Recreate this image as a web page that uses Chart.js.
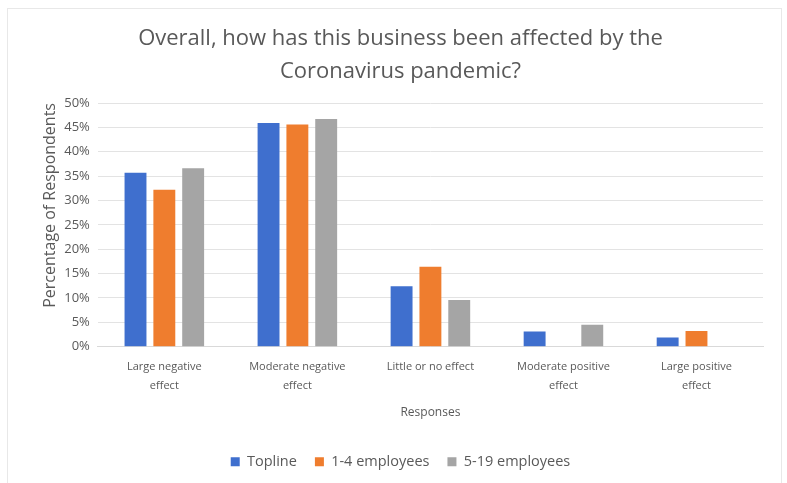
<!DOCTYPE html>
<html>
<head>
<meta charset="utf-8">
<script src="https://cdn.jsdelivr.net/npm/chart.js@4"></script>
<style>
  html, body { margin: 0; padding: 0; background: #ffffff; }
  #wrap { width: 787px; height: 483px; position: relative; }
  #frame {
    position: absolute; left: 7px; top: 8px; width: 773px; height: 480px;
    border: 1px solid #e8e8e8; border-bottom: none; pointer-events: none;
  }
</style>
</head>
<body>
<div id="wrap"><canvas id="chartEffect"></canvas><div id="frame"></div></div>
<script>
// Categories and series (percent of respondents)
const categories = [
    ['Large negative', 'effect'],
    ['Moderate negative', 'effect'],
    'Little or no effect',
    ['Moderate positive', 'effect'],
    ['Large positive', 'effect']
];
const topline = [35.7, 45.9, 12.4, 3.1, 1.9];
const small = [32.2, 45.6, 16.4, 0, 3.2];
const medium = [36.6, 46.7, 9.6, 4.5, 0];
const seriesNames = ['Topline', '1-4 employees', '5-19 employees'];

const textColor = '#595959';
const fontFamily = "'Open Sans', 'Liberation Sans', sans-serif";

document.addEventListener('DOMContentLoaded', function () {
    const ctx = document.getElementById('chartEffect').getContext('2d');
    new Chart(ctx, {
        type: 'bar',
        data: {
            labels: categories,
            datasets: [
                { label: seriesNames[0], data: topline, backgroundColor: '#3f6fce' },
                { label: seriesNames[1], data: small, backgroundColor: '#ef7d2e' },
                { label: seriesNames[2], data: medium, backgroundColor: '#a5a5a5' }
            ]
        },
        options: {
            responsive: true,
            maintainAspectRatio: false,
            animation: false,
            categoryPercentage: 0.65,
            barPercentage: 0.76,
            layout: { padding: { left: 38, right: 24, top: 18, bottom: 4 } },
            plugins: {
                title: {
                    display: true,
                    text: ['Overall, how has this business been affected by the', 'Coronavirus pandemic?'],
                    color: textColor,
                    font: { family: fontFamily, size: 22, weight: 'normal', lineHeight: 1.5 },
                    padding: { top: 4, bottom: 15 }
                },
                legend: {
                    position: 'bottom',
                    labels: {
                        color: textColor,
                        font: { family: fontFamily, size: 14.5 },
                        boxWidth: 9,
                        boxHeight: 9,
                        padding: 18
                    }
                },
                tooltip: { enabled: false }
            },
            scales: {
                x: {
                    grid: { display: false },
                    border: { color: '#d9d9d9' },
                    ticks: {
                        color: textColor,
                        font: { family: fontFamily, size: 11, lineHeight: 1.7 },
                        maxRotation: 0,
                        autoSkip: false,
                        padding: 3
                    },
                    title: {
                        display: true,
                        text: 'Responses',
                        color: textColor,
                        font: { family: fontFamily, size: 12 },
                        padding: { top: 7, bottom: 17 }
                    }
                },
                y: {
                    min: 0,
                    max: 50,
                    grid: { color: '#e3e3e3', drawTicks: false },
                    border: { display: false },
                    ticks: {
                        stepSize: 5,
                        color: textColor,
                        font: { family: fontFamily, size: 13 },
                        padding: 8,
                        callback: function (v) { return v + '%'; }
                    },
                    title: {
                        display: true,
                        text: 'Percentage of Respondents',
                        align: 'end',
                        color: textColor,
                        font: { family: fontFamily, size: 16, lineHeight: 0.7 },
                        padding: { top: 7, bottom: 0 }
                    }
                }
            }
        }
    });
});
</script>
</body>
</html>
